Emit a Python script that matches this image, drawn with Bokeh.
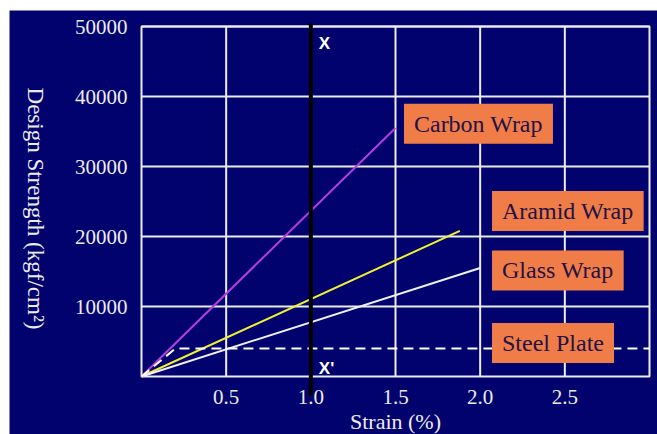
import math
from bokeh.plotting import figure
from bokeh.models import Label, FixedTicker, Range1d
from bokeh.embed import file_html
from bokeh.resources import INLINE

# strain (%) vs design strength (kgf/cm2) for each reinforcement material
carbon_strain = [0.0, 1.5]
carbon_stress = [0, 35500]
aramid_strain = [0.0, 1.88]
aramid_stress = [0, 20800]
glass_strain = [0.0, 2.0]
glass_stress = [0, 15500]
steel_strain = [0.0, 0.2, 3.0]
steel_stress = [0, 4000, 4000]
marker_strain = 1.0

x_ticks = [0.5, 1.0, 1.5, 2.0, 2.5]
y_ticks = [10000, 20000, 30000, 40000, 50000]
x_lo, x_hi = 0.0, 3.0
y_lo, y_hi = 0, 50000

NAVY = "#02026e"
ORANGE = "#f07d48"
TEXT_DARK = "#241245"
LIGHT = "#ececec"
SERIF = "Liberation Serif"

# canvas geometry: the whole canvas is the drawing frame, the data box
# sits inside it with room left over for the axes' labels and titles
W, H = 648, 424
BOX_L, BOX_R, BOX_T, BOX_B = 132, 640, 16, 366   # data box, canvas pixels
kx = (x_hi - x_lo) / (BOX_R - BOX_L)
ky = (y_hi - y_lo) / (BOX_B - BOX_T)
x_range = Range1d(x_lo - BOX_L * kx, x_hi + (W - BOX_R) * kx)
y_range = Range1d(y_lo - (H - BOX_B) * ky, y_hi + BOX_T * ky)

p = figure(
    width=W, height=H, x_range=x_range, y_range=y_range,
    output_backend="svg", toolbar_location=None,
    background_fill_color=NAVY, border_fill_color=NAVY,
    min_border=0,
)
p.margin = (10, 0, 0, 9)
p.outline_line_color = None
p.grid.visible = False

# axes pinned to the data box edges
p.xaxis.fixed_location = y_lo
p.yaxis.fixed_location = x_lo
p.xaxis.bounds = (x_lo, x_hi)
p.yaxis.bounds = (y_lo, y_hi)
for ax in (p.xaxis[0], p.yaxis[0]):
    ax.major_tick_line_color = None
    ax.minor_tick_line_color = None
    ax.axis_line_color = None
    ax.major_label_text_font = SERIF
    ax.major_label_text_font_size = "21px"
    ax.major_label_text_color = LIGHT
p.xaxis.major_label_standoff = 7
p.yaxis.major_label_standoff = 8
p.xaxis.ticker = FixedTicker(ticks=x_ticks)
p.yaxis.ticker = FixedTicker(ticks=y_ticks)
p.xaxis.major_label_overrides = {t: f"{t:.1f}" for t in x_ticks}
p.yaxis.major_label_overrides = {t: str(t) for t in y_ticks}

# grid lines and box outline
GRID = "#ececf0"
p.segment(x0=x_ticks, x1=x_ticks, y0=[y_lo] * len(x_ticks),
          y1=[y_hi] * len(x_ticks), line_color=GRID, line_width=2)
p.segment(x0=[x_lo] * len(y_ticks), x1=[x_hi] * len(y_ticks), y0=y_ticks,
          y1=y_ticks, line_color=GRID, line_width=2)
p.quad(left=[x_lo], right=[x_hi], bottom=[y_lo], top=[y_hi],
       fill_color=None, line_color=GRID, line_width=2)

# material curves
p.line(carbon_strain, carbon_stress, line_color="#b43ee0", line_width=2)
p.line(aramid_strain, aramid_stress, line_color="#f0f032", line_width=2)
p.line(glass_strain, glass_stress, line_color="#f0f0f8", line_width=2)
p.line(steel_strain, steel_stress, line_color="white", line_width=2,
       line_dash="10 6")

# 1% strain reference line, running slightly past the box
p.line([marker_strain, marker_strain], [y_lo - 19 * ky, y_hi + 3 * ky],
       line_color="black", line_width=4, level="annotation")

for txt, yv in (("X", 47600), ("X'", 1100)):
    p.add_layout(Label(x=marker_strain, y=yv, x_offset=8, text=txt,
                       text_font="Liberation Sans", text_font_style="bold",
                       text_font_size="17px", text_color="white",
                       text_baseline="middle"))

# material name tags
tags = [
    ("Carbon Wrap", 1.55, 36100),
    ("Aramid Wrap", 2.07, 23650),
    ("Glass Wrap", 2.07, 15150),
    ("Steel Plate", 2.07, 4800),
]
for txt, xv, yv in tags:
    p.add_layout(Label(x=xv, y=yv, text=txt, text_font=SERIF,
                       text_font_size="24px", text_color=TEXT_DARK,
                       text_baseline="middle", text_align="left",
                       background_fill_color=ORANGE, padding=(10, 7)))

# axis titles
p.add_layout(Label(x=(x_lo + x_hi) / 2, y=y_lo - 45 * ky, text="Strain (%)",
                   text_font=SERIF, text_font_size="22px", text_color=LIGHT,
                   text_align="center", text_baseline="middle"))
p.add_layout(Label(x=x_lo - 106 * kx, y=y_lo + 168 * ky,
                   text="Design Strength (kgf/cm\u00b2)",
                   text_font=SERIF, text_font_size="23px", text_color=LIGHT,
                   text_align="center", text_baseline="middle",
                   angle=-math.pi / 2))

open("out.html", "w").write(file_html(p, INLINE))
